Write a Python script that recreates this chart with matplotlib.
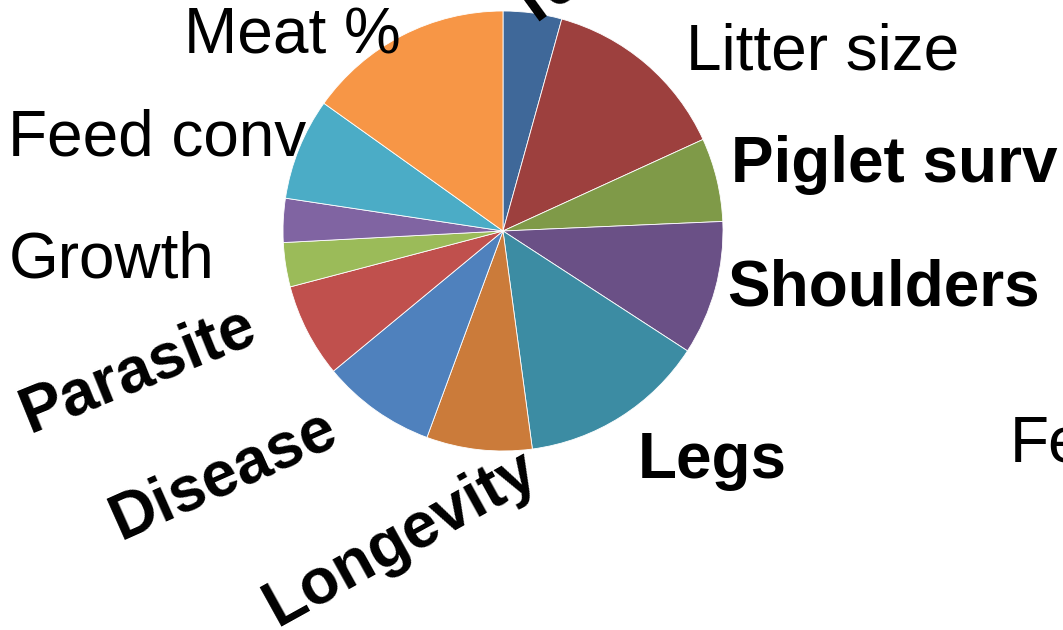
import matplotlib
matplotlib.use("Agg")
import matplotlib.pyplot as plt

# Data (slice sizes in degrees-equivalent shares, clockwise from 12 o'clock)
categories = ["Teats", "Litter size", "Piglet surv", "Shoulders", "Legs",
              "Longevity", "Disease", "Parasite", "Growth", "Growth2",
              "Feed conv", "Meat %"]
values = [15.5, 49.9, 22.1, 35.5, 49.3, 27.9, 30.2, 24.85, 11.7, 11.6, 26.9, 54.5]
colors = ["#3F6899", "#9D403E", "#7F9A48", "#6A5086", "#3C8CA3", "#CB7B3A",
          "#4F81BD", "#C0504D", "#9BBB59", "#8064A2", "#4BACC6", "#F79646"]

W, H = 1063, 630
fig = plt.figure(figsize=(W / 100, H / 100), dpi=100)
ax = fig.add_axes([0, 0, 1, 1])
ax.set_xlim(0, W)
ax.set_ylim(0, H)
ax.axis("off")

ax.pie(values, colors=colors, startangle=90, counterclock=False,
       center=(503, H - 231), radius=220,
       wedgeprops=dict(linewidth=0.6, edgecolor="white"))
ax.set_xlim(0, W)
ax.set_ylim(0, H)
ax.set_aspect("equal")

plt.rcParams["font.family"] = ["Liberation Sans", "DejaVu Sans"]
fs = 46

# label placements: (text, x_px, y_px_baseline, weight, rotation)
label_specs = [
    ("Teats", 527, 30, "bold", 36),
    ("Litter size", 686, 70, "normal", 0),
    ("Piglet surv", 731, 182, "bold", 0),
    ("Shoulders", 727, 305, "bold", 0),
    ("Legs", 638, 478, "bold", 0),
    ("Longevity", 277, 627, "bold", 29),
    ("Disease", 121, 540, "bold", 24),
    ("Parasite", 30, 433, "bold", 22),
    ("Growth", 9, 277, "normal", 0),
    ("Feed conv", 8, 155, "normal", 0),
    ("Meat %", 184, 53, "normal", 0),
    ("Feed", 1010, 462, "normal", 0),
]
for txt, x, y, wt, rot in label_specs:
    ax.text(x, H - y, txt, fontsize=fs, fontweight=wt, rotation=rot,
            rotation_mode="anchor", ha="left", va="baseline", color="black",
            family=["Liberation Sans", "DejaVu Sans"], clip_on=False)

fig.savefig("out.png", dpi=100, facecolor="white")
